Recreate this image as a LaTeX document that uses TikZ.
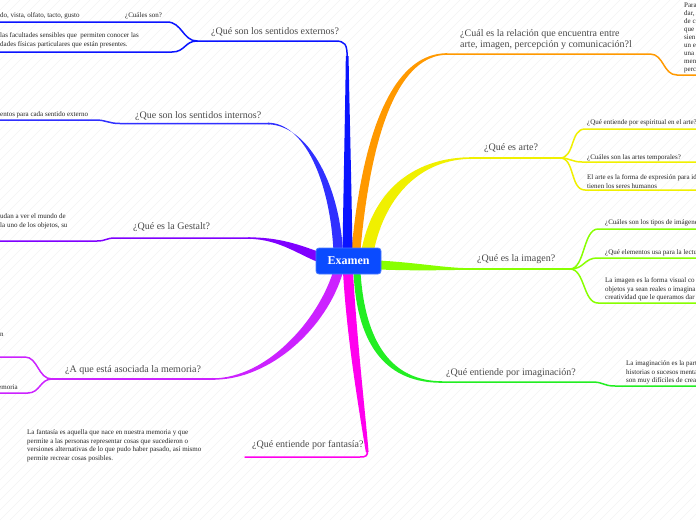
\documentclass[tikz,border=0pt]{standalone}
\usepackage{fontspec}
\setmainfont{Liberation Serif}
\definecolor{cext}{HTML}{0A14FF}
\definecolor{cint}{HTML}{3030FF}
\definecolor{cges}{HTML}{7F00FF}
\definecolor{cmem}{HTML}{CC22FF}
\definecolor{cfan}{HTML}{FF00EE}
\definecolor{cimg}{HTML}{22EE22}
\definecolor{cima}{HTML}{88FF00}
\definecolor{cart}{HTML}{F0F000}
\definecolor{crel}{HTML}{FF9900}
\definecolor{exfill}{HTML}{0A4BFF}
\definecolor{exdraw}{HTML}{4A7BFF}
\definecolor{titlegray}{HTML}{4A4A4A}
\definecolor{smallgray}{HTML}{262626}
\definecolor{hatch}{HTML}{F3F3F3}
\begin{document}
\begin{tikzpicture}[x=1pt,y=-1pt,
  title/.style={font=\fontsize{10}{10.5}\selectfont, text=titlegray, inner sep=0pt, anchor=base west},
  small/.style={font=\fontsize{7}{8.7}\selectfont, text=smallgray, inner sep=0pt, anchor=base west, align=left},
  thinline/.style={line width=1.5pt, line cap=round},
  exnode/.style={fill=exfill, draw=exdraw, line width=0.8pt, rounded corners=3pt, minimum width=65pt, minimum height=26pt, inner sep=0pt, text=white, font=\bfseries\fontsize{12}{14}\selectfont}
]
\useasboundingbox (0,0) rectangle (696,520);
\clip (0,0) rectangle (696,520);
\fill[white] (0,0) rectangle (696,520);
\foreach \i in {-53,...,70} \draw[hatch, line width=0.5pt] (\i*10,520) -- ++(520,-520);

% ---------- thick branches ----------
% relacion (orange)
\fill[crel] (351.5,250) .. controls (364,118) and (398,53.2) .. (447,53.2) -- (447,54.8) .. controls (402,55) and (372,122) .. (360.5,250) -- cycle;
% arte (yellow)
\fill[cart] (361.5,250) .. controls (374,186) and (418,157.2) .. (472,157.2) -- (472,158.8) .. controls (422,159) and (386,194) .. (374,250) -- cycle;
% externos (blue)
\fill[cext] (342.5,252) .. controls (344,160) and (345.5,90) .. (345.8,56) -- (348.6,56) .. controls (349,90) and (351,160) .. (352.5,252) -- cycle;
% internos
\fill[cint] (268,122.7) .. controls (304,123) and (330,180) .. (333.5,252) -- (343,252) .. controls (339,180) and (306,125) .. (268,124.3) -- cycle;
% gestalt
\fill[cges] (248,237.3) .. controls (280,237.3) and (300,245) .. (322,253) -- (322,263.5) .. controls (300,256) and (280,239) .. (248,238.8) -- cycle;
% memoria
\fill[cmem] (213,378.3) .. controls (266,378) and (317,322) .. (333,272) -- (343,272) .. controls (327,328) and (270,380) .. (213,379.7) -- cycle;
% fantasia
\fill[cfan] (343,272) .. controls (347,340) and (359,410) .. (365.8,452) -- (368.6,452) .. controls (365,410) and (357,340) .. (353,272) -- cycle;
% imaginacion
\fill[cimg] (353.5,272) .. controls (357,348) and (388,383) .. (442,382.8) -- (442,381.2) .. controls (392,381) and (365,343) .. (360.5,272) -- cycle;
% imagen
\fill[cima] (379,260.5) .. controls (420,263) and (445,268) .. (470,268.2) -- (470,269.8) .. controls (445,270) and (420,271) .. (379,269.5) -- cycle;

% ---------- central node ----------
\node[exnode] (ex) at (348.5,261) {Examen};

% ---------- coordinates ----------
\coordinate (extC) at (347.2,58);
\coordinate (extA) at (197,41);
\coordinate (extU) at (0,22);
\coordinate (extL) at (0,52);
\coordinate (intA) at (120,123.5);
\coordinate (intB) at (270,123.5);
\coordinate (intS) at (0,120);
\coordinate (gesA) at (115,238);
\coordinate (gesB) at (250,238);
\coordinate (gesS) at (0,241);
\coordinate (memA) at (52,379);
\coordinate (memB) at (215,379);
\coordinate (memU) at (0,357);
\coordinate (memL) at (0,393);
\coordinate (fanC) at (367.2,450);
\coordinate (fanA) at (245,457);
\coordinate (imgA) at (440,382);
\coordinate (imgS) at (700,386);
\coordinate (imaA) at (468,269);
\coordinate (imaB) at (570,269);
\coordinate (imaS1) at (700,229);
\coordinate (imaS2) at (700,258);
\coordinate (imaS3) at (700,303);
\coordinate (artA) at (470,158);
\coordinate (artB) at (560,158);
\coordinate (artS1) at (700,129);
\coordinate (artS2) at (700,162);
\coordinate (artS3) at (700,190);
\coordinate (relA) at (445,54);
\coordinate (relS) at (700,75);

% ---------- thin lines ----------
\draw[thinline,cext] (extC) .. controls (347.2,44) and (345,41) .. (335,41) -- (extA);
\draw[thinline,cext] (extA) .. controls (183,41) and (182,22) .. (167,22) -- (extU);
\draw[thinline,cext] (extA) .. controls (185,41) and (185,52) .. (172,52) -- (extL);
\draw[thinline,cint] (intB) -- (intA) .. controls (108,123.5) and (107,120) .. (95,120) -- (intS);
\draw[thinline,cges] (gesB) -- (gesA) .. controls (106,238) and (106,241) .. (97,241) -- (gesS);
\draw[thinline,cmem] (memB) -- (memA);
\draw[thinline,cmem] (memA) .. controls (38,379) and (38,357) .. (25,357) -- (memU);
\draw[thinline,cmem] (memA) .. controls (40,379) and (40,393) .. (28,393) -- (memL);
\draw[thinline,cfan] (fanC) .. controls (368,456) and (366,457) .. (360,457) -- (fanA);
\draw[thinline,cimg] (imgA) -- (592,382) .. controls (604,382) and (603,386) .. (615,386) -- (imgS);
\draw[thinline,cima] (imaA) -- (imaB);
\draw[thinline,cima] (imaB) .. controls (585,269) and (583,229) .. (598,229) -- (imaS1);
\draw[thinline,cima] (imaB) .. controls (585,269) and (583,258) .. (598,258) -- (imaS2);
\draw[thinline,cima] (imaB) .. controls (585,269) and (583,303) .. (598,303) -- (imaS3);
\draw[thinline,cart] (artA) -- (artB);
\draw[thinline,cart] (artB) .. controls (575,158) and (570,129) .. (585,129) -- (artS1);
\draw[thinline,cart] (artB) .. controls (570,158) and (572,162) .. (582,162) -- (artS2);
\draw[thinline,cart] (artB) .. controls (575,158) and (570,190) .. (585,190) -- (artS3);
\draw[thinline,crel] (relA) -- (650,54) .. controls (664,54) and (663,75) .. (677,75) -- (relS);

% ---------- titles ----------
\node[title] (t1) at (211,34) {¿Qué son los sentidos externos?};
\node[title] (t2) at (135,118.5) {¿Que son los sentidos internos?};
\node[title] (t3) at (133,229.5) {¿Qué es la Gestalt?};
\node[title] (t4) at (65,372) {¿A que está asociada la memoria?};
\node[title] (t5) at (252,447) {¿Qué entiende por fantasía?};
\node[title] (t6) at (446,375) {¿Qué entiende por imaginación?};
\node[title] (t7) at (477,261.5) {¿Qué es la imagen?};
\node[title] (t8) at (484,150.5) {¿Qué es arte?};
\node[title,align=left] (t9) at (460,47) {¿Cuál es la relación que encuentra entre\\arte, imagen, percepción y comunicación?l};

% ---------- small texts (anchored at last line baseline) ----------
\node[small] (s1) at (0,17.5) {do, vista, olfato, tacto, gusto};
\node[small] (s2) at (125,17.5) {¿Cuáles son?};
\node[small] (s3) at (0,46.2) {las facultades sensibles que\ \ permiten conocer las\\dades físicas particulares que están presentes.};
\node[small] (s4) at (0,116.5) {entos para cada sentido externo};
\node[small] (s5) at (0,227.2) {udan a ver el mundo de\\la uno de los objetos, su};
\node[small] (s6) at (0,336.5) {n};
\node[small] (s7) at (-2,389.5) {emoria};
\node[small] (s8) at (27,460.6) {La fantasía es aquella que nace en nuestra memoria y que\\permite a las personas representar cosas que sucedieron o\\versiones alternativas de lo que pudo haber pasado, así mismo\\permite recrear cosas posibles.};
\node[small] (s9) at (587,124.5) {¿Qué entiende por espiritual en el arte?};
\node[small] (s10) at (587,159.5) {¿Cuáles son las artes temporales?};
\node[small] (s11) at (587,188.2) {El arte es la forma de expresión para id\\tienen los seres humanos};
\node[small] (s12) at (605,224.5) {¿Cuáles son los tipos de imágenes};
\node[small] (s13) at (605,254.5) {¿Qué elementos usa para la lectu};
\node[small] (s14) at (605,299.9) {La imagen es la forma visual co\\objetos ya sean reales o imagina\\creatividad que le queramos dar};
\node[small] (s15) at (626,382.9) {La imaginación es la part\\historias o sucesos menta\\son muy difíciles de crea};
\node[small, font=\fontsize{7}{8}\selectfont] (s16) at (684,71.5) {Para\\dar,\\de c\\que\\sien\\un e\\una\\men\\perc};
\end{tikzpicture}
\end{document}
